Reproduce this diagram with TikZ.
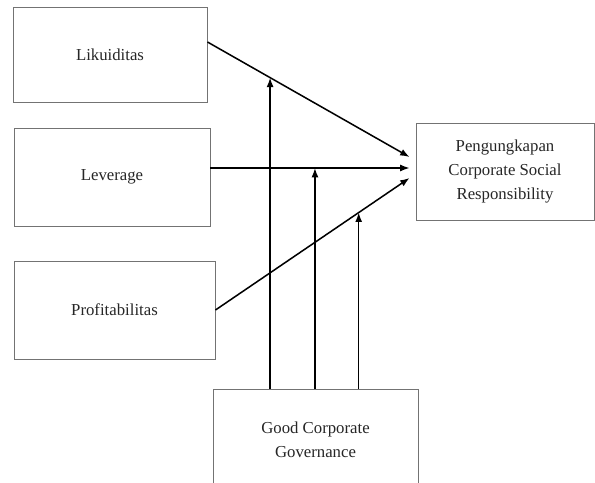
\documentclass[tikz,border=0pt]{standalone}
\usepackage{fontspec}
\setmainfont{Liberation Serif}
\usetikzlibrary{arrows.meta,calc}
\tikzset{
  varbox/.style={draw=black!55,line width=0.8pt,text=black!85,align=center,
    font=\fontsize{14.3}{20.5}\selectfont,inner sep=0pt},
  link/.style={line width=1.3pt,->,>={Latex[length=8pt,width=6pt]}}
}
\begin{document}
\begin{tikzpicture}[x=0.03cm,y=-0.03cm]
      \clip (0,0) rectangle (595,483);
      \node[varbox,minimum width=194*0.03cm,minimum height=95*0.03cm] (liq) at (110,54.5) {Likuiditas};
      \node[varbox,minimum width=196*0.03cm,minimum height=98*0.03cm] (lev) at (112,177) {Leverage};
      \node[varbox,minimum width=201*0.03cm,minimum height=98*0.03cm] (prof) at (114.5,310) {Profitabilitas};
      \node[varbox,minimum width=178*0.03cm,minimum height=97*0.03cm] (csr) at (505,171.5) {Pengungkapan\\Corporate Social\\Responsibility};
      \node[varbox,minimum width=205*0.03cm,minimum height=102*0.03cm] (gcg) at (315.5,440) {Good Corporate\\Governance};
      % ujung panah di depan kotak CSR
      \coordinate (t1) at ($(csr.west)+(-6,-14.5)$);
      \coordinate (t2) at ($(csr.west)+(-6,-3.5)$);
      \coordinate (t3) at ($(csr.west)+(-6,6.5)$);
      \draw[link] ($(liq.east)+(0,-12.5)$) -- coordinate[pos=0.31] (m1) (t1);
      \draw[link] ($(lev.east)+(0,-9)$) -- coordinate[pos=0.525] (m2) (t2);
      \draw[link] (prof.east) -- coordinate[pos=0.738] (m3) (t3);
      % moderasi
      \draw[link] (gcg.north -| m1) -- (m1);
      \draw[link] (gcg.north -| m2) -- (m2);
      \draw[link] (gcg.north -| m3) -- (m3);
\end{tikzpicture}
\end{document}
